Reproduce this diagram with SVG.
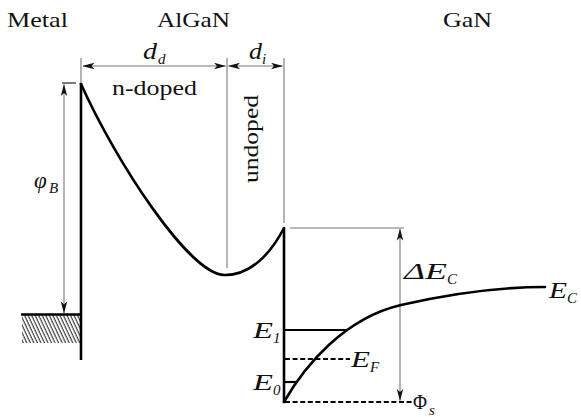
<svg xmlns="http://www.w3.org/2000/svg" width="581" height="417" viewBox="0 0 581 417">
<defs>
<marker id="arr" viewBox="0 0 12 8" refX="11.5" refY="4" markerWidth="12" markerHeight="8" markerUnits="userSpaceOnUse" orient="auto-start-reverse">
<path d="M0,0.8 L12,4 L0,7.2 L3,4 Z" fill="#111"/>
</marker>
<pattern id="hatch" width="3.2" height="10" patternUnits="userSpaceOnUse" patternTransform="rotate(-25)">
<line x1="1" y1="0" x2="1" y2="10" stroke="#333" stroke-width="1.1"/>
</pattern>
</defs>
<style>
.t{font-family:"Liberation Serif","Times New Roman",serif;font-size:22px;fill:#111}
.i{font-family:"Liberation Serif","Times New Roman",serif;font-style:italic;font-size:23px;fill:#111}
.s{font-family:"Liberation Serif","Times New Roman",serif;font-style:italic;font-size:15px;fill:#111}
.thin{stroke:#777;stroke-width:1.1;fill:none}
.thick{stroke:#000;stroke-width:2.6;fill:none}
.band{stroke:#000;stroke-width:2.6;fill:none;stroke-linecap:round}
.dash{stroke:#000;stroke-width:2;stroke-dasharray:5 2.6;fill:none}
</style>
<g id="titles">
<text class="t" x="7" y="27" textLength="61" lengthAdjust="spacingAndGlyphs">Metal</text>
<text class="t" x="157" y="27" textLength="73" lengthAdjust="spacingAndGlyphs">AlGaN</text>
<text class="t" x="443" y="27" textLength="49" lengthAdjust="spacingAndGlyphs">GaN</text>
</g>
<g id="connectors">
<line class="thin" x1="81" y1="58" x2="81" y2="83"/>
<line class="thin" x1="227" y1="58" x2="227" y2="268"/>
<line class="thin" x1="284" y1="58" x2="284" y2="223"/>
<line class="thin" x1="83" y1="66" x2="225.5" y2="66" marker-start="url(#arr)" marker-end="url(#arr)"/>
<line class="thin" x1="228.5" y1="66" x2="282.5" y2="66" marker-start="url(#arr)" marker-end="url(#arr)"/>
<line x1="62" y1="83" x2="76" y2="83" stroke="#222" stroke-width="1.2"/>
<line class="thin" x1="64" y1="84.5" x2="64" y2="313" marker-start="url(#arr)" marker-end="url(#arr)"/>
<line class="thin" x1="290" y1="228" x2="404" y2="228"/>
<line class="thin" x1="400" y1="229" x2="400" y2="400.5" marker-start="url(#arr)" marker-end="url(#arr)"/>
</g>
<g id="metal">
<rect x="22" y="315" width="58" height="28" fill="url(#hatch)"/>
<line class="thick" x1="21" y1="314.5" x2="81" y2="314.5"/>
<line class="thick" x1="81" y1="83" x2="81" y2="360"/>
</g>
<g id="algan">
<path class="band" d="M81,84 C115,160 190,276 225,275 C250,275 270,255 284,228"/>
<text class="t" x="112" y="95" textLength="85" lengthAdjust="spacingAndGlyphs">n-doped</text>
<text class="t" transform="translate(258,139) rotate(-90)" text-anchor="middle" textLength="88" lengthAdjust="spacingAndGlyphs">undoped</text>
<text class="i" x="143" y="59" textLength="14" lengthAdjust="spacingAndGlyphs">d</text><text class="s" x="158" y="64">d</text>
<text class="i" x="249" y="59" textLength="13" lengthAdjust="spacingAndGlyphs">d</text><text class="s" x="262" y="64">i</text>
<text class="i" x="34" y="188">φ</text><text class="s" x="49" y="193">B</text>
</g>
<g id="gan">
<line class="thick" x1="284" y1="228" x2="284" y2="403"/>
<path class="band" d="M284,402 C305,365 345,318 401,305 C440,296 490,287 545,287"/>
<line x1="284" y1="330" x2="346" y2="330" stroke="#000" stroke-width="2.2"/>
<line x1="284" y1="382" x2="297" y2="382" stroke="#000" stroke-width="2.2"/>
<line class="dash" x1="285" y1="359" x2="350" y2="359"/>
<line class="dash" x1="285" y1="402" x2="413" y2="402"/>
<text class="i" x="404" y="279" textLength="43" lengthAdjust="spacingAndGlyphs">ΔE</text><text class="s" x="447" y="284">C</text>
<text class="i" x="549" y="298" textLength="18" lengthAdjust="spacingAndGlyphs">E</text><text class="s" x="567" y="303">C</text>
<text class="i" x="351" y="367" textLength="19" lengthAdjust="spacingAndGlyphs">E</text><text class="s" x="370" y="372">F</text>
<text class="i" x="253" y="338" textLength="20" lengthAdjust="spacingAndGlyphs">E</text><text class="s" x="273" y="343">1</text>
<text class="i" x="253" y="390" textLength="20" lengthAdjust="spacingAndGlyphs">E</text><text class="s" x="273" y="395">0</text>
<text class="t" x="413" y="409" textLength="14" lengthAdjust="spacingAndGlyphs">Φ</text><text class="s" x="429" y="415">s</text>
</g>
</svg>
